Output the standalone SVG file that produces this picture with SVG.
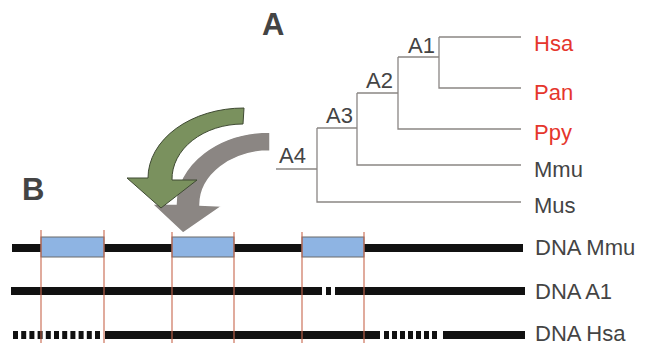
<svg xmlns="http://www.w3.org/2000/svg" width="652" height="346" viewBox="0 0 652 346">
<style>
text{font-family:"Liberation Sans",Arial,sans-serif;font-size:22px;fill:#444}
.big{font-size:31px;font-weight:bold;fill:#444}
.red{fill:#e5362c}
.tree{stroke:#8a8684;stroke-width:1.3;fill:none}
.dna{stroke:#111;stroke-width:8;fill:none}
.exon{fill:#8eb4e3;stroke:#6a6a6a;stroke-width:1}
.cut{stroke:#c8674e;stroke-width:1.1}
</style>
<rect width="652" height="346" fill="#fff"/>
<g id="label-A"><text class="big" x="262" y="35">A</text></g>
<g id="label-B"><text class="big" x="22" y="200">B</text></g>
<g id="connectors">
<path class="tree" d="M439,37 H521 M439,37 V88 H521 M398,57 H439 M398,57 V129 H521 M357,93 H398 M357,93 V165 H521 M317,128 H357 M317,128 V202 H521 M276,169 H317"/>
</g>
<g id="node-A1"><text x="408" y="53">A1</text></g>
<g id="node-A2"><text x="366" y="88">A2</text></g>
<g id="node-A3"><text x="326" y="123">A3</text></g>
<g id="node-A4"><text x="279" y="163">A4</text></g>
<g id="node-Hsa"><text class="red" x="534" y="51">Hsa</text></g>
<g id="node-Pan"><text class="red" x="534" y="100">Pan</text></g>
<g id="node-Ppy"><text class="red" x="534" y="140">Ppy</text></g>
<g id="node-Mmu"><text x="534" y="177">Mmu</text></g>
<g id="node-Mus"><text x="534" y="213">Mus</text></g>
<g id="arrows">
<path d="M270,132 A94,72 0 0 0 176,204 L152,204 L183,233 L222,206 L200,205 A70,54 0 0 1 270,151 Z" fill="#8b8683" stroke="#fff" stroke-width="1.5"/>
<path d="M244,108 A96,70 0 0 0 148,178 L127,178 L161,208 L197,180 L172,180 A71,55 0 0 1 243,124 Z" fill="#7a915e" stroke="#3f4a33" stroke-width="1"/>
</g>
<g id="dna-Mmu">
<path class="dna" d="M12,248 H523"/>
<rect class="exon" x="41" y="237" width="63" height="20"/>
<rect class="exon" x="172" y="237" width="62" height="20"/>
<rect class="exon" x="302" y="237" width="62" height="20"/>
<text x="535" y="255">DNA Mmu</text>
</g>
<g id="dna-A1">
<path class="dna" d="M11,291 H322 M326,291 H331 M335,291 H525"/>
<text x="535" y="299">DNA A1</text>
</g>
<g id="dna-Hsa">
<path class="dna" d="M13,335 H101" stroke-dasharray="5 3.2"/>
<path class="dna" d="M105,335 H380 M443,335 H525"/>
<path class="dna" d="M384,335 H438" stroke-dasharray="5 3"/>
<text x="535" y="341">DNA Hsa</text>
</g>
<g id="cuts">
<path class="cut" d="M41,230 V343 M104,230 V343 M172,232 V343 M234,232 V343 M302,232 V343 M364,232 V343"/>
</g>
</svg>
